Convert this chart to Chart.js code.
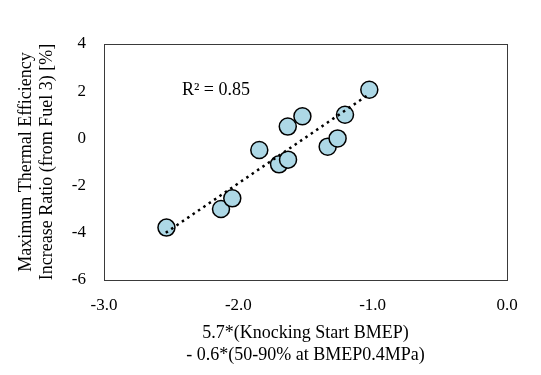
<!DOCTYPE html>
<html>
<head>
<meta charset="utf-8">
<script src="https://cdn.jsdelivr.net/npm/chart.js@4/dist/chart.umd.min.js"></script>
<style>
html,body{margin:0;padding:0;background:#fff;}
#wrap{width:541px;height:375px;}
</style>
</head>
<body>
<div id="wrap"><canvas id="c" width="541" height="375"></canvas></div>
<script>
const xValues = [-2.535, -2.129, -2.045, -1.844, -1.697, -1.630, -1.632, -1.523, -1.335, -1.261, -1.206, -1.025];
const yValues = [-3.78, -2.99, -2.54, -0.49, -1.10, -0.90, 0.50, 0.94, -0.35, 0.00, 1.00, 2.06];
const trendX = [-2.54, -1.03];
const trendY = [-4.00, 1.86];
const xTicks = [-3.0, -2.0, -1.0, 0.0];
const yTicks = [-6, -4, -2, 0, 2, 4];
const r2Label = "R² = 0.85";
const xTitle = ["5.7*(Knocking Start BMEP)", "- 0.6*(50-90% at BMEP0.4MPa)"];
const yTitle = ["Maximum Thermal Efficiency", "Increase Ratio (from Fuel 3) [%]"];

const serif = "'Liberation Serif', 'Times New Roman', serif";

const points = xValues.map((x, i) => ({x: x, y: yValues[i]}));
const trend = trendX.map((x, i) => ({x: x, y: trendY[i]}));

const framePlugin = {
  id: 'frame',
  beforeDatasetsDraw(chart) {
    const a = chart.chartArea, ctx = chart.ctx;
    ctx.save();
    ctx.strokeStyle = '#3a3a3a';
    ctx.lineWidth = 1;
    ctx.strokeRect(Math.round(a.left) + 0.5, Math.round(a.top) + 0.5, Math.round(a.right - a.left), Math.round(a.bottom - a.top));
    ctx.restore();
  },
  afterDatasetsDraw(chart) {
    const ctx = chart.ctx;
    const xs = chart.scales.x, ys = chart.scales.y;
    ctx.save();
    ctx.fillStyle = '#000';
    ctx.font = "18px " + serif;
    ctx.textBaseline = 'middle';
    ctx.textAlign = 'left';
    ctx.fillText(r2Label, xs.getPixelForValue(-2.42), ys.getPixelForValue(2.05));
    ctx.restore();
  }
};

new Chart(document.getElementById('c'), {
  type: 'scatter',
  data: {
    datasets: [
      {
        data: trend,
        showLine: true,
        borderColor: '#000',
        borderWidth: 2.5,
        borderDash: [2.5, 4],
        pointRadius: 0,
        fill: false
      },
      {
        data: points,
        backgroundColor: '#add8e6',
        borderColor: '#000',
        borderWidth: 1.5,
        pointRadius: 8.5,
        pointHoverRadius: 8.5
      }
    ]
  },
  options: {
    responsive: false,
    animation: false,
    devicePixelRatio: 1,
    layout: {padding: {top: 44, right: 34, left: 0, bottom: 0}},
    plugins: {legend: {display: false}, tooltip: {enabled: false}},
    scales: {
      x: {
        type: 'linear',
        min: -3, max: 0,
        afterBuildTicks(scale) { scale.ticks = xTicks.map(v => ({value: v})); },
        afterFit(scale) { scale.height = 95; },
        grid: {display: false, drawTicks: false},
        border: {display: false},
        ticks: {
          color: '#000',
          font: {family: serif, size: 17},
          padding: 15,
          maxRotation: 0,
          callback: v => Number(v).toFixed(1)
        },
        title: {
          display: true,
          text: xTitle,
          color: '#000',
          font: {family: serif, size: 18, lineHeight: 1.25},
          padding: {top: 0, bottom: 8}
        }
      },
      y: {
        type: 'linear',
        min: -6, max: 4,
        afterBuildTicks(scale) { scale.ticks = yTicks.map(v => ({value: v})); },
        afterFit(scale) { scale.width = 104; },
        grid: {display: false, drawTicks: false},
        border: {display: false},
        ticks: {
          color: '#000',
          font: {family: serif, size: 17},
          padding: 18,
          callback: v => String(v)
        },
        title: {
          display: true,
          text: yTitle,
          color: '#000',
          font: {family: serif, size: 18, lineHeight: 1.15},
          padding: {top: 16, bottom: 0}
        }
      }
    }
  },
  plugins: [framePlugin]
});
</script>
</body>
</html>
